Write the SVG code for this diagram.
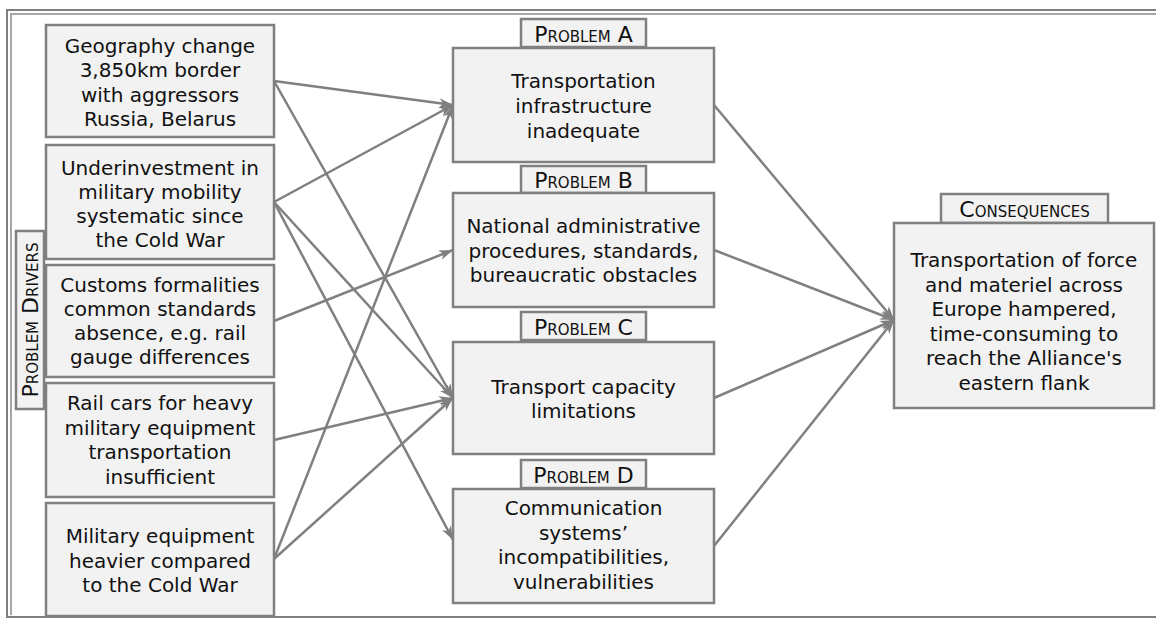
<svg xmlns="http://www.w3.org/2000/svg" width="1156" height="619" viewBox="0 0 1156 619">
  <style>
    .box { fill: #f2f2f2; stroke: #808080; stroke-width: 2.5; }
    .t { font-family: "DejaVu Sans", Verdana, sans-serif; font-size: 20px; fill: #111; text-anchor: middle; }
    .lbl { font-family: "DejaVu Sans", Verdana, sans-serif; font-size: 22px; fill: #111; text-anchor: middle; font-variant: small-caps; }
    .conn { stroke: #808080; stroke-width: 2.5; fill: none; marker-end: url(#arr); }
  </style>
  <defs>
    <marker id="arr" viewBox="0 0 14 10" refX="14" refY="5" markerWidth="14" markerHeight="10" markerUnits="userSpaceOnUse" orient="auto">
      <path d="M0,0 L14,5 L0,10 L4,5 Z" fill="#808080"/>
    </marker>
  </defs>
  <rect width="1156" height="619" fill="#fff"/>
  <g id="frame" fill="none">
    <path d="M1156,10 H7 V617 H1156" stroke="#808080" stroke-width="2"/>
    <path d="M1156,14 H11 V615" stroke="#a6a6a6" stroke-width="2"/>
  </g>

  <g id="connectors">
    <line class="conn" x1="274" y1="81" x2="453" y2="105"/>
    <line class="conn" x1="274" y1="81" x2="453" y2="398"/>
    <line class="conn" x1="274" y1="202" x2="453" y2="105"/>
    <line class="conn" x1="274" y1="202" x2="453" y2="398"/>
    <line class="conn" x1="274" y1="202" x2="453" y2="540"/>
    <line class="conn" x1="274" y1="321" x2="453" y2="250"/>
    <line class="conn" x1="274" y1="440" x2="453" y2="398"/>
    <line class="conn" x1="274" y1="559" x2="453" y2="105"/>
    <line class="conn" x1="274" y1="559" x2="453" y2="398"/>
    <line class="conn" x1="714" y1="105" x2="894" y2="320"/>
    <line class="conn" x1="714" y1="250" x2="894" y2="320"/>
    <line class="conn" x1="714" y1="398" x2="894" y2="320"/>
    <line class="conn" x1="714" y1="546" x2="894" y2="320"/>
  </g>

  <g id="label-drivers">
    <rect class="box" x="16" y="231" width="28" height="178"/>
    <text class="lbl" transform="translate(38,320) rotate(-90)">Problem Drivers</text>
  </g>

  <g id="driver1">
    <rect class="box" x="46" y="25" width="228" height="112"/>
    <text class="t"><tspan x="160" y="52.5">Geography change</tspan><tspan x="160" y="77">3,850km border</tspan><tspan x="160" y="101.5">with aggressors</tspan><tspan x="160" y="126">Russia, Belarus</tspan></text>
  </g>
  <g id="driver2">
    <rect class="box" x="46" y="145" width="228" height="114"/>
    <text class="t"><tspan x="160" y="175">Underinvestment in</tspan><tspan x="160" y="199">military mobility</tspan><tspan x="160" y="223">systematic since</tspan><tspan x="160" y="247">the Cold War</tspan></text>
  </g>
  <g id="driver3">
    <rect class="box" x="46" y="265" width="228" height="112"/>
    <text class="t"><tspan x="160" y="292">Customs formalities</tspan><tspan x="160" y="316">common standards</tspan><tspan x="160" y="340">absence, e.g. rail</tspan><tspan x="160" y="364">gauge differences</tspan></text>
  </g>
  <g id="driver4">
    <rect class="box" x="46" y="383" width="228" height="114"/>
    <text class="t"><tspan x="160" y="410">Rail cars for heavy</tspan><tspan x="160" y="434.5">military equipment</tspan><tspan x="160" y="459">transportation</tspan><tspan x="160" y="483.5">insufficient</tspan></text>
  </g>
  <g id="driver5">
    <rect class="box" x="46" y="503" width="228" height="113"/>
    <text class="t"><tspan x="160" y="543">Military equipment</tspan><tspan x="160" y="567.5">heavier compared</tspan><tspan x="160" y="592">to the Cold War</tspan></text>
  </g>

  <g id="problemA">
    <rect class="box" x="521" y="19" width="125" height="28"/>
    <text class="lbl" x="583.5" y="41.5">Problem A</text>
    <rect class="box" x="453" y="48" width="261" height="114"/>
    <text class="t"><tspan x="583.5" y="87.5">Transportation</tspan><tspan x="583.5" y="112.5">infrastructure</tspan><tspan x="583.5" y="137.5">inadequate</tspan></text>
  </g>
  <g id="problemB">
    <rect class="box" x="521" y="166" width="125" height="27"/>
    <text class="lbl" x="583.5" y="188">Problem B</text>
    <rect class="box" x="453" y="193" width="261" height="114"/>
    <text class="t"><tspan x="583.5" y="233">National administrative</tspan><tspan x="583.5" y="257.5">procedures, standards,</tspan><tspan x="583.5" y="282">bureaucratic obstacles</tspan></text>
  </g>
  <g id="problemC">
    <rect class="box" x="521" y="312" width="125" height="28"/>
    <text class="lbl" x="583.5" y="334.5">Problem C</text>
    <rect class="box" x="453" y="342" width="261" height="112"/>
    <text class="t"><tspan x="583.5" y="394">Transport capacity</tspan><tspan x="583.5" y="418">limitations</tspan></text>
  </g>
  <g id="problemD">
    <rect class="box" x="521" y="460" width="125" height="28"/>
    <text class="lbl" x="583.5" y="482.5">Problem D</text>
    <rect class="box" x="453" y="489" width="261" height="114"/>
    <text class="t"><tspan x="583.5" y="515">Communication</tspan><tspan x="583.5" y="539.5">systems’</tspan><tspan x="583.5" y="564">incompatibilities,</tspan><tspan x="583.5" y="588.5">vulnerabilities</tspan></text>
  </g>

  <g id="consequences">
    <rect class="box" x="941" y="194" width="167" height="29"/>
    <text class="lbl" x="1024.5" y="217">Consequences</text>
    <rect class="box" x="894" y="223" width="260" height="185"/>
    <text class="t"><tspan x="1024" y="267">Transportation of force</tspan><tspan x="1024" y="291.5">and materiel across</tspan><tspan x="1024" y="316">Europe hampered,</tspan><tspan x="1024" y="340.5">time-consuming to</tspan><tspan x="1024" y="365">reach the Alliance's</tspan><tspan x="1024" y="389.5">eastern flank</tspan></text>
  </g>
</svg>
